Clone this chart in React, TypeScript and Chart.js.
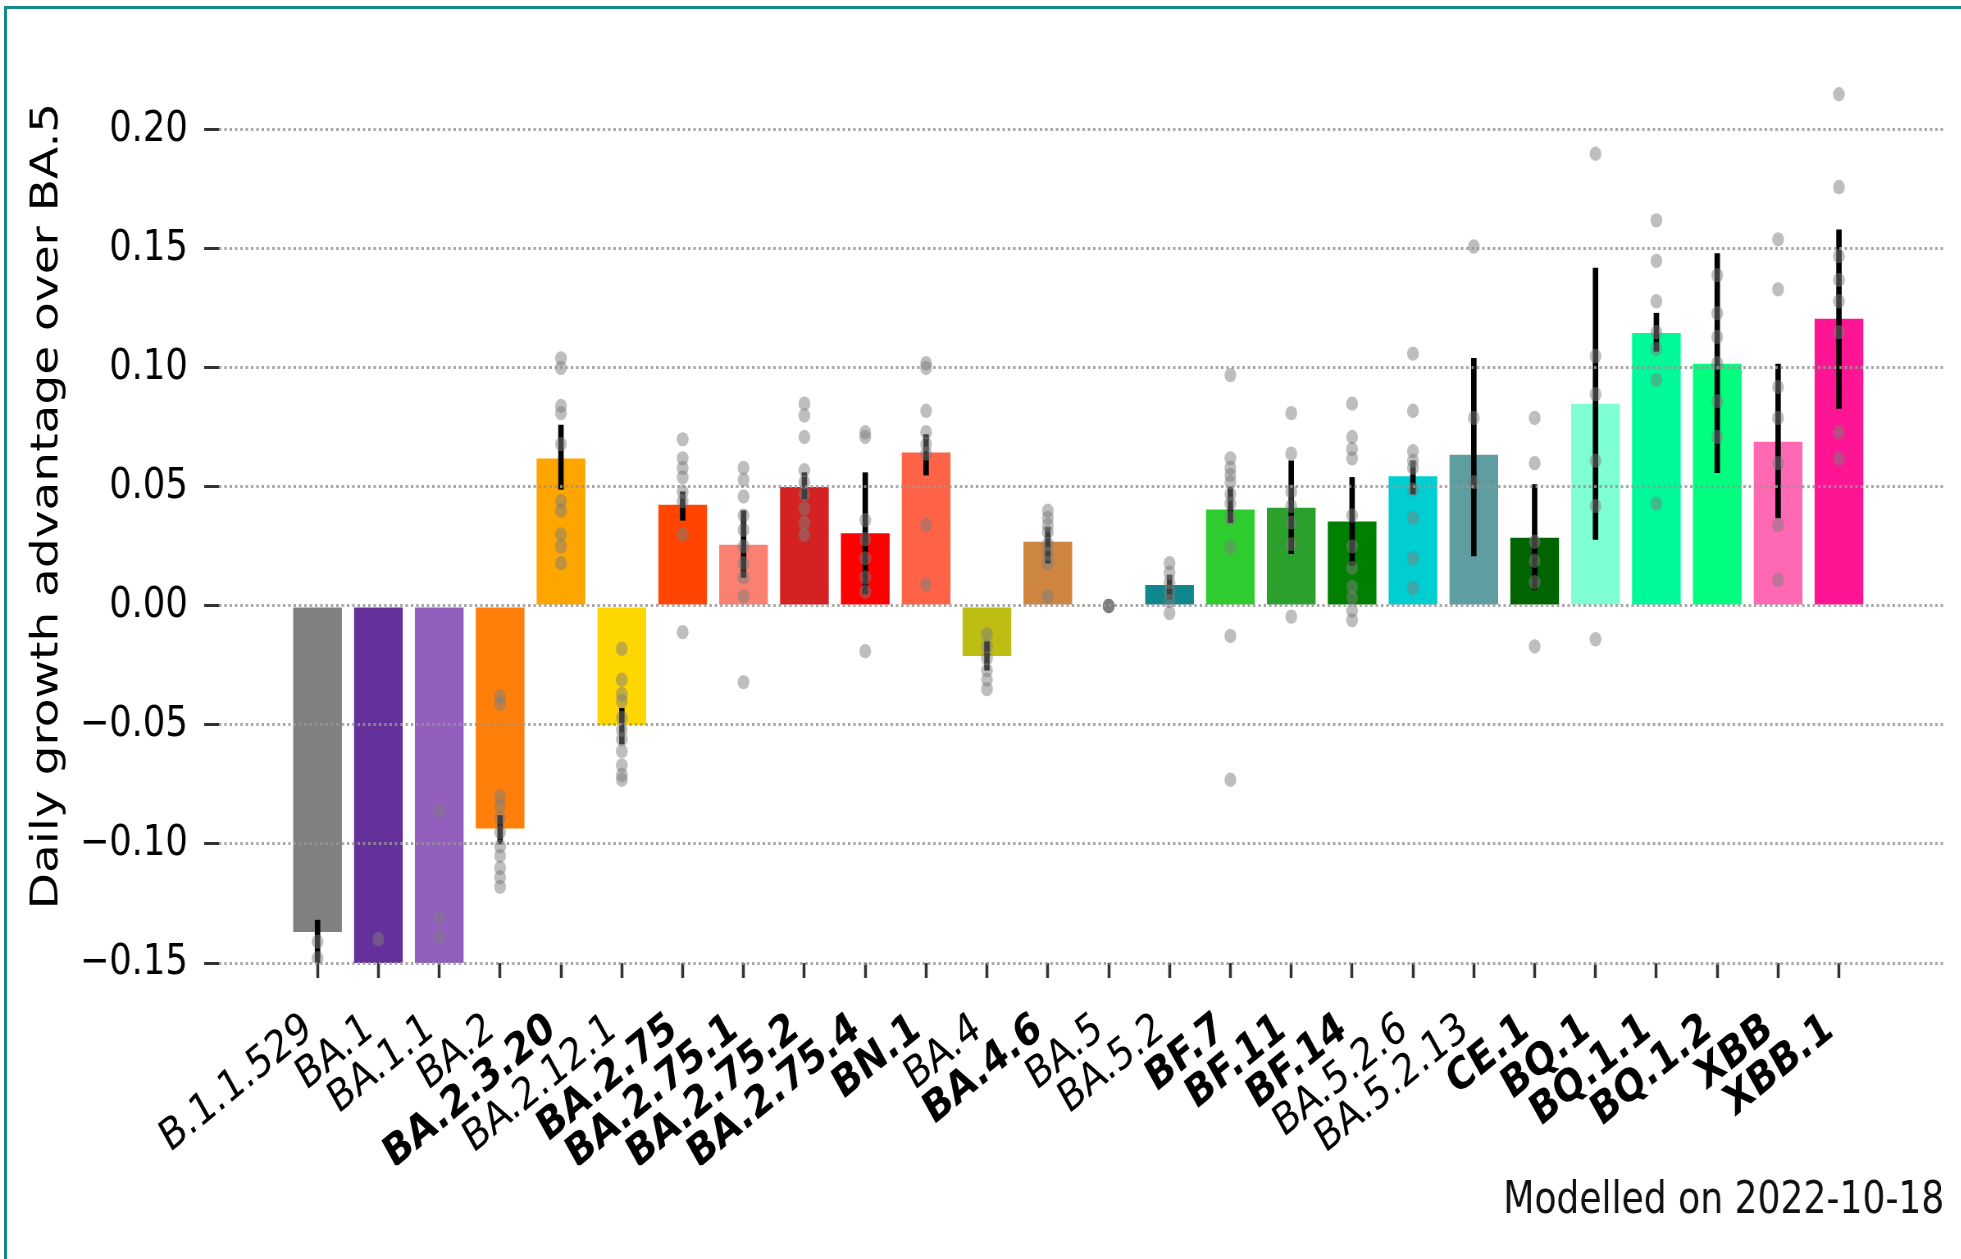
import React, { useEffect, useRef } from 'react';
import { Chart, registerables } from 'chart.js';

Chart.register(...registerables);

// ---------------- data ----------------
const categories = [
  'B.1.1.529', 'BA.1', 'BA.1.1', 'BA.2', 'BA.2.3.20', 'BA.2.12.1', 'BA.2.75', 'BA.2.75.1',
  'BA.2.75.2', 'BA.2.75.4', 'BN.1', 'BA.4', 'BA.4.6', 'BA.5', 'BA.5.2', 'BF.7', 'BF.11',
  'BF.14', 'BA.5.2.6', 'BA.5.2.13', 'CE.1', 'BQ.1', 'BQ.1.1', 'BQ.1.2', 'XBB', 'XBB.1',
];

const boldLabels = [
  false, false, false, false, true, false, true, true,
  true, true, true, false, true, false, false, true, true,
  true, false, false, true, true, true, true, true, true,
];

const barValues = [
  -0.137, -0.15, -0.15, -0.0935, 0.062, -0.05, 0.0425, 0.0257,
  0.05, 0.0305, 0.0645, -0.021, 0.027, 0, 0.0088, 0.0405, 0.0413,
  0.0355, 0.0545, 0.0635, 0.0287, 0.085, 0.1147, 0.1018, 0.069, 0.1207,
];

const errLow: (number | null)[] = [
  -0.15, null, null, -0.1, 0.049, -0.058, 0.036, 0.012,
  0.045, 0.005, 0.055, -0.027, 0.018, null, 0.003, 0.035, 0.022,
  0.017, 0.047, 0.021, 0.007, 0.028, 0.107, 0.056, 0.037, 0.083,
];

const errHigh: (number | null)[] = [
  -0.132, null, null, -0.088, 0.076, -0.043, 0.048, 0.040,
  0.056, 0.056, 0.072, -0.015, 0.033, null, 0.013, 0.050, 0.061,
  0.054, 0.061, 0.104, 0.051, 0.142, 0.123, 0.148, 0.1016, 0.158,
];

const barColors = [
  '#808080', '#64309a', '#925fbf', '#ff7f0a', '#ffa500', '#ffd700', '#ff4500', '#fa8072',
  '#d42222', '#ff0000', '#ff6347', '#bdbd14', '#cd853f', '#888888', '#0f878c', '#2ecc2e', '#2ca02c',
  '#008000', '#00ced1', '#5f9ea0', '#006400', '#7fffd4', '#00fa9a', '#00ff7f', '#ff69b4', '#ff1493',
];

const dotValues: number[][] = [
  [-0.141, -0.148],
  [-0.14],
  [-0.086, -0.131, -0.139],
  [-0.038, -0.041, -0.08, -0.084, -0.089, -0.095, -0.101, -0.105, -0.11, -0.114, -0.118],
  [0.104, 0.1, 0.084, 0.081, 0.068, 0.044, 0.04, 0.03, 0.025, 0.018],
  [-0.018, -0.031, -0.037, -0.04, -0.047, -0.052, -0.056, -0.061, -0.067, -0.071, -0.073],
  [0.07, 0.062, 0.058, 0.054, 0.048, 0.044, 0.03, -0.011],
  [0.058, 0.053, 0.046, 0.038, 0.032, 0.025, 0.018, 0.012, 0.004, -0.032],
  [0.085, 0.08, 0.071, 0.057, 0.052, 0.047, 0.041, 0.035, 0.03],
  [0.073, 0.071, 0.036, 0.028, 0.02, 0.012, 0.006, -0.019],
  [0.102, 0.1, 0.082, 0.073, 0.068, 0.064, 0.034, 0.009],
  [-0.012, -0.017, -0.022, -0.027, -0.031, -0.035],
  [0.04, 0.037, 0.034, 0.031, 0.026, 0.022, 0.018, 0.004],
  [0, 0, 0, 0, 0, 0],
  [0.018, 0.014, 0.01, 0.006, 0.002, -0.003],
  [0.097, 0.062, 0.058, 0.055, 0.052, 0.047, 0.043, 0.037, 0.0245, -0.0126, -0.073],
  [0.081, 0.064, 0.048, 0.042, 0.035, 0.026, -0.0045],
  [0.085, 0.071, 0.066, 0.062, 0.038, 0.025, 0.016, 0.008, 0.0035, -0.002, -0.006],
  [0.106, 0.082, 0.065, 0.061, 0.058, 0.049, 0.037, 0.02, 0.0076],
  [0.151, 0.079, 0.052],
  [0.079, 0.06, 0.027, 0.019, 0.01, -0.017],
  [0.19, 0.105, 0.089, 0.061, 0.042, -0.014],
  [0.162, 0.145, 0.128, 0.115, 0.108, 0.095, 0.043],
  [0.139, 0.123, 0.113, 0.102, 0.086, 0.071],
  [0.154, 0.133, 0.092, 0.079, 0.06, 0.034, 0.011],
  [0.215, 0.176, 0.147, 0.137, 0.128, 0.115, 0.073, 0.062],
];

const yTickValues = [-0.15, -0.1, -0.05, 0, 0.05, 0.1, 0.15, 0.2];
const yAxisTitle = 'Daily growth advantage over BA.5';
const footnote = 'Modelled on 2022-10-18';

// ---------------- layout constants ----------------
const SQUISH = 0.82;
const FULL_W = 1961;
const FULL_H = 1259;
const LOGICAL_W = Math.round(FULL_W / SQUISH);
const FONT = "'DejaVu Sans', 'Liberation Sans', sans-serif";

function fmtY(v: number): string {
  const s = Math.abs(v).toFixed(2);
  return v < -1e-9 ? '\u2212' + s : s;
}

export default function App() {
  const ref = useRef<HTMLCanvasElement>(null);

  useEffect(() => {
    const canvas = ref.current;
    if (!canvas) return;

    const barData = categories.map((_, i) => ({ x: i, y: barValues[i] }));
    const errData: { x: number; y: [number, number] }[] = [];
    categories.forEach((_, i) => {
      const lo = errLow[i];
      const hi = errHigh[i];
      if (lo !== null && hi !== null) errData.push({ x: i, y: [lo, hi] });
    });
    const dotData: { x: number; y: number }[] = [];
    dotValues.forEach((vals, i) => vals.forEach((v) => dotData.push({ x: i, y: v })));

    const chart = new Chart(canvas, {
      type: 'bar',
      data: {
        datasets: [
          {
            type: 'scatter',
            data: dotData,
            order: 0,
            pointRadius: 7.2,
            pointHoverRadius: 7.2,
            pointBackgroundColor: 'rgba(125,125,125,0.5)',
            pointBorderWidth: 0,
            pointBorderColor: 'rgba(0,0,0,0)',
          } as any,
          {
            type: 'bar',
            data: errData as any,
            order: 1,
            backgroundColor: '#000000',
            barThickness: 6,
            grouped: false,
            borderWidth: 0,
          } as any,
          {
            type: 'bar',
            data: barData as any,
            order: 2,
            backgroundColor: barColors,
            barPercentage: 0.8,
            categoryPercentage: 1,
            grouped: false,
            borderWidth: 0,
          } as any,
        ],
      },
      options: {
        animation: false,
        responsive: false,
        devicePixelRatio: 1,
        events: [],
        layout: { padding: { top: 49, right: 20, bottom: 0, left: 0 } },
        plugins: {
          legend: { display: false },
          tooltip: { enabled: false },
          title: {
            display: true,
            text: footnote,
            position: 'bottom',
            align: 'end',
            color: '#111',
            font: { family: FONT, size: 44, weight: 'normal' },
            padding: { top: 10, bottom: 31 },
          },
        },
        scales: {
          x: {
            type: 'linear',
            min: -1.62,
            max: 26.73,
            offset: false,
            afterBuildTicks: (axis: any) => {
              axis.ticks = categories.map((_, i) => ({ value: i }));
            },
            afterFit: (axis: any) => {
              axis.height = 202.2;
            },
            grid: {
              display: true,
              drawOnChartArea: false,
              drawTicks: true,
              tickLength: 15,
              tickWidth: 3.5,
              tickColor: '#333',
              offset: false,
            },
            border: { display: false },
            ticks: {
              autoSkip: false,
              maxRotation: 34,
              minRotation: 34,
              padding: 25,
              labelOffset: -11,
              color: '#000',
              font: (ctx: any) => ({
                family: FONT,
                size: 44,
                weight: boldLabels[ctx.index] ? 'bold' : 'normal',
              }),
              callback: (_v: any, index: number) => categories[index] ?? '',
            },
          } as any,
          y: {
            type: 'linear',
            min: -0.15,
            max: 0.234,
            afterBuildTicks: (axis: any) => {
              axis.ticks = yTickValues.map((v) => ({ value: v }));
            },
            afterFit: (axis: any) => {
              axis.width = 267;
            },
            grid: {
              z: 1,
              color: 'rgba(150,150,150,0.85)',
              lineWidth: 3,
              drawTicks: true,
              tickLength: 18,
              tickWidth: 3,
              tickColor: '#333',
              tickBorderDash: [],
            },
            border: { display: false, dash: [3, 3.5] },
            ticks: {
              padding: 20,
              color: '#000',
              font: { family: FONT, size: 43 },
              callback: (v: any) => fmtY(Number(v)),
            },
            title: {
              display: true,
              text: yAxisTitle,
              color: '#000',
              font: { family: FONT, size: 47 },
              padding: { top: 30, bottom: 0 },
            },
          } as any,
        },
      } as any,
    });

    return () => chart.destroy();
  }, []);

  return (
    <div
      style={{
        position: 'absolute',
        left: 0,
        top: 0,
        width: FULL_W,
        height: FULL_H,
        overflow: 'hidden',
        background: '#ffffff',
      }}
    >
      <div
        style={{
          position: 'absolute',
          left: 0,
          top: 0,
          width: LOGICAL_W,
          height: FULL_H,
          transform: `scaleX(${SQUISH})`,
          transformOrigin: '0 0',
        }}
      >
        <canvas ref={ref} width={LOGICAL_W} height={FULL_H} />
      </div>
      <div
        style={{
          position: 'absolute',
          left: 4,
          top: 6,
          right: -20,
          bottom: -20,
          borderLeft: '3px solid #17898c',
          borderTop: '3px solid #17898c',
          pointerEvents: 'none',
        }}
      />
    </div>
  );
}
